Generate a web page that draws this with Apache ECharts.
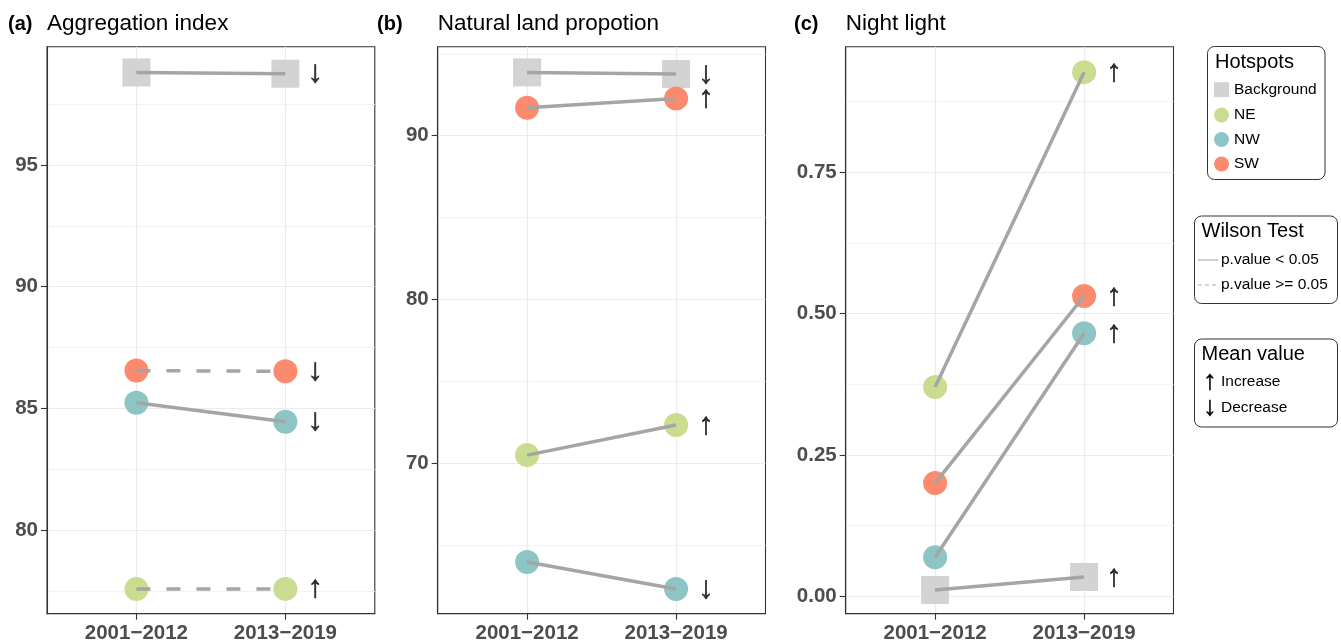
<!DOCTYPE html>
<html>
<head>
<meta charset="utf-8">
<script src="https://cdn.jsdelivr.net/npm/echarts@6/dist/echarts.min.js"></script>
<style>
html,body{margin:0;padding:0;background:#fff;}
#chart{width:1341px;height:642px;}
</style>
</head>
<body>
<div id="chart"></div>
<script>
// ---- data ----
var periods = ['2001\u22122012', '2013\u22122019'];
var hotspots = ['Background', 'NE', 'NW', 'SW'];
var panelTags = ['(a)', '(b)', '(c)'];
var panelTitles = ['Aggregation index', 'Natural land propotion', 'Night light'];

// values [2001-2012, 2013-2019] per hotspot
var aggBackground = [98.80, 98.75];
var aggNE = [77.57, 77.58];
var aggNW = [85.23, 84.45];
var aggSW = [86.55, 86.52];

var natBackground = [93.87, 93.77];
var natNE = [70.49, 72.33];
var natNW = [63.96, 62.31];
var natSW = [91.71, 92.28];

var nlBackground = [0.011, 0.034];
var nlNE = [0.370, 0.927];
var nlNW = [0.069, 0.465];
var nlSW = [0.200, 0.531];

// Wilson test significance (true: p < 0.05)
var aggSig = [true, false, true, false];
var natSig = [true, true, true, true];
var nlSig = [true, true, true, true];

// mean value trend arrows
var aggTrend = ['\u2193', '\u2191', '\u2193', '\u2193'];
var natTrend = ['\u2193', '\u2191', '\u2193', '\u2191'];
var nlTrend = ['\u2191', '\u2191', '\u2191', '\u2191'];

// axis ticks
var aggTicks = [80, 85, 90, 95];
var aggMinor = [77.5, 82.5, 87.5, 92.5, 97.5];
var natTicks = [70, 80, 90];
var natMinor = [65, 75, 85, 95];
var nlTicks = [0, 0.25, 0.5, 0.75];
var nlMinor = [0.125, 0.375, 0.625, 0.875];
var yRanges = [[76.56, 99.86], [60.80, 95.44], [-0.031, 0.972]];

// ---- styling ----
var FONT = 'Liberation Sans, Arial, Helvetica, sans-serif';
var colors = {Background: '#d3d3d3', NE: '#c9dc90', NW: '#8dc4c4', SW: '#fc8a6e'};
var lineColor = '#a5a5a5';

var panels = [
  {vals: [aggBackground, aggNE, aggNW, aggSW], sig: aggSig, trend: aggTrend, ticks: aggTicks, minor: aggMinor, fmt: function(v){return String(v);}},
  {vals: [natBackground, natNE, natNW, natSW], sig: natSig, trend: natTrend, ticks: natTicks, minor: natMinor, fmt: function(v){return String(v);}},
  {vals: [nlBackground, nlNE, nlNW, nlSW], sig: nlSig, trend: nlTrend, ticks: nlTicks, minor: nlMinor, fmt: function(v){return v.toFixed(2);}}
];

var gridLefts = [47, 437.7, 845.7];
var gridW = 327.8, gridTop = 46.7, gridH = 567;

var grids = [], xAxes = [], yAxes = [], series = [], graphics = [];

panels.forEach(function(p, i) {
  grids.push({left: gridLefts[i], top: gridTop, width: gridW, height: gridH, show: true,
    borderColor: '#333333', borderWidth: 1.1, backgroundColor: '#fff', containLabel: false, outerBoundsMode: 'none'});
  xAxes.push({type: 'value', gridIndex: i, min: 0.4, max: 2.6, position: 'bottom',
    axisLine: {show: true, onZero: false, lineStyle: {color: '#333', width: 1.1}},
    axisTick: {show: true, customValues: [1, 2], length: 6, lineStyle: {color: '#333', width: 1.1}},
    axisLabel: {show: true, customValues: [1, 2], margin: 9, color: '#4d4d4d', fontFamily: FONT, fontWeight: 'bold', fontSize: 20.5,
      formatter: function(v){ return periods[Math.round(v) - 1]; }},
    splitLine: {show: true, lineStyle: {color: '#ebebeb', width: 1.2}}
  });
  yAxes.push({type: 'value', gridIndex: i, min: yRanges[i][0], max: yRanges[i][1], position: 'left',
    axisLine: {show: true, onZero: false, lineStyle: {color: '#333', width: 1.1}},
    axisTick: {show: true, customValues: p.ticks, length: 6, lineStyle: {color: '#333', width: 1.1}},
    axisLabel: {show: true, customValues: p.ticks, margin: 9, color: '#4d4d4d', fontFamily: FONT, fontWeight: 'bold', fontSize: 20.5, formatter: p.fmt},
    splitLine: {show: true, lineStyle: {color: '#ebebeb', width: 1.2}}
  });
  yAxes.push({type: 'value', gridIndex: i, min: yRanges[i][0], max: yRanges[i][1], position: 'left',
    axisLine: {show: false, onZero: false},
    axisTick: {show: false, customValues: p.minor},
    axisLabel: {show: false, customValues: p.minor},
    splitLine: {show: true, lineStyle: {color: '#f2f2f2', width: 1}}
  });

  hotspots.forEach(function(h, k) {
    var v = p.vals[k];
    var isBg = h === 'Background';
    series.push({type: 'scatter', name: h, xAxisIndex: i, yAxisIndex: 2 * i, z: 2, silent: true,
      symbol: isBg ? 'rect' : 'circle', symbolSize: isBg ? 28 : 24,
      itemStyle: {color: colors[h], opacity: 1},
      data: [[1, v[0]], [2, v[1]]]});
    series.push({type: 'line', xAxisIndex: i, yAxisIndex: 2 * i, z: 3, silent: true, symbol: 'none',
      lineStyle: {color: lineColor, width: 3.5, type: p.sig[k] ? 'solid' : [14, 16], cap: 'butt'},
      data: [[1, v[0]], [2, v[1]]]});
    series.push({type: 'scatter', xAxisIndex: i, yAxisIndex: 2 * i, z: 4, silent: true,
      symbolSize: 2, itemStyle: {color: 'rgba(0,0,0,0)'},
      label: {show: true, position: 'inside', formatter: p.trend[k], color: '#000', fontFamily: FONT, fontSize: 31,
        textBorderColor: '#000', textBorderWidth: 0.6},
      data: [[2.2, v[1]]]});
  });

  // titles
  graphics.push({type: 'text', left: [8, 377, 794][i], top: 14,
    style: {text: panelTags[i], font: 'bold 20px ' + FONT, fill: '#000'}});
  graphics.push({type: 'text', left: gridLefts[i], top: 12,
    style: {text: panelTitles[i], font: '22.5px ' + FONT, fill: '#000'}});
});

// ---- legends (graphic) ----
var border = {stroke: '#333', lineWidth: 1, fill: '#fff'};
graphics.push({type: 'rect', shape: {x: 1207.5, y: 46.5, width: 117.5, height: 133, r: 7}, style: border});
graphics.push({type: 'text', x: 1215, y: 62, style: {text: 'Hotspots', font: '20px ' + FONT, fill: '#000', verticalAlign: 'middle'}});
var legY = [89.7, 115, 139.5, 164];
hotspots.forEach(function(h, k) {
  if (h === 'Background') {
    graphics.push({type: 'rect', shape: {x: 1214, y: legY[k] - 7.5, width: 15, height: 15}, style: {fill: colors[h]}});
  } else {
    graphics.push({type: 'circle', shape: {cx: 1221.5, cy: legY[k], r: 7.5}, style: {fill: colors[h]}});
  }
  graphics.push({type: 'text', x: 1234, y: legY[k], style: {text: h, font: '15.5px ' + FONT, fill: '#000', verticalAlign: 'middle'}});
});

graphics.push({type: 'rect', shape: {x: 1194.5, y: 216, width: 143, height: 87.5, r: 7}, style: border});
graphics.push({type: 'text', x: 1201.5, y: 231, style: {text: 'Wilson Test', font: '20px ' + FONT, fill: '#000', verticalAlign: 'middle'}});
graphics.push({type: 'line', shape: {x1: 1198, y1: 260, x2: 1218, y2: 260}, style: {stroke: '#b0b0b0', lineWidth: 1.2}});
graphics.push({type: 'text', x: 1221, y: 260, style: {text: 'p.value < 0.05', font: '15.5px ' + FONT, fill: '#000', verticalAlign: 'middle'}});
graphics.push({type: 'line', shape: {x1: 1198, y1: 285, x2: 1218, y2: 285}, style: {stroke: '#b0b0b0', lineWidth: 1.2, lineDash: [4, 3]}});
graphics.push({type: 'text', x: 1221, y: 285, style: {text: 'p.value >= 0.05', font: '15.5px ' + FONT, fill: '#000', verticalAlign: 'middle'}});

graphics.push({type: 'rect', shape: {x: 1194.5, y: 339, width: 143, height: 88, r: 7}, style: border});
graphics.push({type: 'text', x: 1201.5, y: 354, style: {text: 'Mean value', font: '20px ' + FONT, fill: '#000', verticalAlign: 'middle'}});
graphics.push({type: 'text', x: 1210, y: 382, style: {text: '\u2191', font: '27px ' + FONT, fill: '#000', stroke: '#000', lineWidth: 0.5, align: 'center', verticalAlign: 'middle'}});
graphics.push({type: 'text', x: 1221, y: 382, style: {text: 'Increase', font: '15.5px ' + FONT, fill: '#000', verticalAlign: 'middle'}});
graphics.push({type: 'text', x: 1210, y: 408, style: {text: '\u2193', font: '27px ' + FONT, fill: '#000', stroke: '#000', lineWidth: 0.5, align: 'center', verticalAlign: 'middle'}});
graphics.push({type: 'text', x: 1221, y: 408, style: {text: 'Decrease', font: '15.5px ' + FONT, fill: '#000', verticalAlign: 'middle'}});

var chart = echarts.init(document.getElementById('chart'), null, {renderer: 'canvas'});
chart.setOption({
  animation: false,
  backgroundColor: '#fff',
  grid: grids,
  xAxis: xAxes,
  yAxis: yAxes,
  series: series,
  graphic: graphics
});
</script>
</body>
</html>
